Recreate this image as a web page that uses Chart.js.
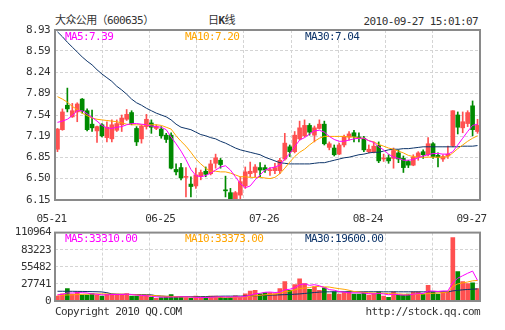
<!DOCTYPE html>
<html lang="zh-CN">
<head>
<meta charset="utf-8">
<title>大众公用 日K线</title>
<script src="https://cdn.jsdelivr.net/npm/chart.js@4.4.1/dist/chart.umd.min.js"></script>
<style>
  html, body { margin: 0; padding: 0; background: #fff; }
  #kxWrap {
    position: relative; width: 505px; height: 330px; overflow: hidden;
    font-family: 'DejaVu Sans Mono', 'Noto Sans CJK SC', monospace;
    font-size: 11px; color: #333; letter-spacing: -0.6px;
  }
  .kx-text { position: absolute; line-height: 14px; white-space: nowrap; }
  #priceChart { position: absolute; left: 0; top: 0; }
  #volChart { position: absolute; left: 0; top: 222px; }
</style>
</head>
<body>
<div id="kxWrap">
  <div class="kx-text" style="left:55px;top:14px;">大众公用（600635）</div>
  <div class="kx-text" style="left:208px;top:14px;">日<b>K</b>线</div>
  <div class="kx-text" style="right:27px;top:15px;">2010-09-27 15:01:07</div>
  <canvas id="priceChart" width="505" height="230"></canvas>
  <canvas id="volChart" width="505" height="108"></canvas>
  <div class="kx-text" style="left:55px;top:305px;">Copyright 2010 QQ.COM</div>
  <div class="kx-text" style="right:25px;top:305px;">http://stock.qq.com</div>
</div>
<script>
// ── 交易日 ──
var DATES = [
  '05-21','05-24','05-25','05-26','05-27','05-28','05-31',
  '06-01','06-02','06-03','06-04','06-07','06-08','06-09','06-10','06-11','06-17',
  '06-18','06-21','06-22','06-23','06-24','06-25','06-28','06-29','06-30',
  '07-01','07-02','07-05','07-06','07-07','07-08','07-09','07-12','07-13','07-14',
  '07-15','07-16','07-19','07-20','07-21','07-22','07-23','07-26','07-27','07-28',
  '07-29','07-30',
  '08-02','08-03','08-04','08-05','08-06','08-09','08-10','08-11','08-12','08-13',
  '08-16','08-17','08-18','08-19','08-20','08-23','08-24','08-25','08-26','08-27',
  '08-30','08-31',
  '09-01','09-02','09-03','09-06','09-07','09-08','09-09','09-10','09-13','09-14',
  '09-15','09-16','09-17','09-20','09-21','09-27'
];
var DATE_TICKS = ['05-21', '06-25', '07-26', '08-24', '09-27'];

// ── 开盘 / 收盘 / 最高 / 最低 ──
var OPEN = [
  6.98, 7.30, 7.70, 7.51, 7.59, 7.80, 7.61, 7.39, 7.28, 7.38,
  7.17, 7.15, 7.29, 7.38, 7.47, 7.58, 7.32, 7.15, 7.35, 7.41,
  7.32, 7.31, 7.21, 7.21, 6.65, 6.68, 6.52, 6.41, 6.38, 6.54,
  6.62, 6.58, 6.75, 6.80, 6.31, 6.27, 6.15, 6.23, 6.38, 6.58,
  6.60, 6.68, 6.68, 6.63, 6.63, 6.63, 6.82, 7.02, 6.94, 7.15,
  7.20, 7.37, 7.21, 7.32, 7.39, 7.01, 7.00, 6.90, 7.05, 7.18,
  7.25, 7.18, 7.16, 6.94, 6.94, 7.04, 6.82, 6.84, 6.83, 6.92,
  6.83, 6.78, 6.72, 6.85, 6.94, 6.89, 7.07, 6.88, 6.82, 6.87,
  7.04, 7.54, 7.33, 7.40, 7.69, 7.27
];
var CLOSE = [
  7.31, 7.59, 7.64, 7.61, 7.72, 7.61, 7.30, 7.33, 7.35, 7.20,
  7.34, 7.38, 7.40, 7.49, 7.55, 7.40, 7.10, 7.36, 7.47, 7.34,
  7.35, 7.20, 7.14, 6.67, 6.61, 6.51, 6.53, 6.37, 6.56, 6.60,
  6.57, 6.74, 6.84, 6.73, 6.30, 6.15, 6.27, 6.45, 6.61, 6.62,
  6.69, 6.64, 6.64, 6.64, 6.68, 6.80, 7.08, 6.94, 7.21, 7.33,
  7.37, 7.26, 7.33, 7.39, 7.07, 7.07, 6.89, 7.05, 7.19, 7.23,
  7.19, 7.16, 6.97, 6.98, 7.03, 6.79, 6.83, 6.79, 6.96, 6.82,
  6.68, 6.72, 6.85, 6.92, 6.89, 7.07, 6.86, 6.85, 6.86, 6.90,
  7.61, 7.34, 7.43, 7.58, 7.30, 7.37
];
var HIGH = [
  7.32, 7.64, 7.98, 7.73, 7.74, 7.81, 7.64, 7.62, 7.36, 7.40,
  7.43, 7.46, 7.46, 7.54, 7.63, 7.61, 7.35, 7.38, 7.55, 7.46,
  7.38, 7.35, 7.24, 7.25, 6.74, 6.75, 6.68, 6.53, 6.67, 6.64,
  6.69, 6.80, 6.90, 6.83, 6.54, 6.34, 6.29, 6.53, 6.69, 6.77,
  6.73, 6.76, 6.72, 6.68, 6.75, 6.83, 7.24, 7.05, 7.27, 7.44,
  7.46, 7.40, 7.36, 7.46, 7.44, 7.10, 7.05, 7.08, 7.21, 7.27,
  7.29, 7.25, 7.19, 7.05, 7.10, 7.10, 6.90, 6.89, 7.00, 6.97,
  6.87, 6.80, 6.89, 6.94, 6.97, 7.17, 7.09, 6.92, 6.89, 7.03,
  7.61, 7.59, 7.59, 7.61, 7.77, 7.47
];
var LOW = [
  6.94, 7.29, 7.59, 7.50, 7.43, 7.57, 7.28, 7.27, 7.09, 7.18,
  7.10, 7.10, 7.27, 7.27, 7.45, 7.38, 7.04, 7.08, 7.31, 7.24,
  7.30, 7.16, 7.09, 6.66, 6.56, 6.48, 6.20, 6.20, 6.34, 6.48,
  6.53, 6.56, 6.67, 6.67, 6.20, 6.15, 6.15, 6.16, 6.34, 6.53,
  6.53, 6.53, 6.60, 6.55, 6.58, 6.58, 6.80, 6.86, 6.92, 7.13,
  7.18, 7.21, 7.10, 7.31, 7.05, 6.97, 6.87, 6.89, 7.02, 7.13,
  7.10, 7.10, 6.94, 6.92, 6.92, 6.76, 6.78, 6.75, 6.67, 6.76,
  6.60, 6.68, 6.71, 6.80, 6.83, 6.87, 6.83, 6.69, 6.78, 6.83,
  7.02, 7.23, 7.25, 7.35, 7.20, 7.24
];

// ── 价格均线 ──
var MA5 = [
  7.42, 7.44, 7.47, 7.53, 7.61, 7.61, 7.56, 7.50, 7.44, 7.37,
  7.33, 7.32, 7.34, 7.35, 7.38, 7.40, 7.40, 7.39, 7.38, 7.36,
  7.35, 7.34, 7.30, 7.18, 7.07, 6.95, 6.81, 6.65, 6.55, 6.53,
  6.55, 6.59, 6.64, 6.69, 6.71, 6.64, 6.53, 6.42, 6.35, 6.38,
  6.48, 6.56, 6.64, 6.67, 6.69, 6.72, 6.82, 6.91, 7.02, 7.13,
  7.17, 7.23, 7.28, 7.29, 7.26, 7.19, 7.14, 7.11, 7.11, 7.13,
  7.15, 7.16, 7.16, 7.12, 7.09, 7.02, 6.97, 6.90, 6.85, 6.83,
  6.80, 6.80, 6.81, 6.84, 6.87, 6.89, 6.91, 6.91, 6.90, 6.90,
  6.94, 7.05, 7.16, 7.27, 7.37, 7.39
];
var MA10 = [
  7.84, 7.80, 7.75, 7.68, 7.63, 7.57, 7.53, 7.49, 7.47, 7.46,
  7.45, 7.44, 7.43, 7.41, 7.39, 7.38, 7.38, 7.38, 7.38, 7.38,
  7.38, 7.37, 7.34, 7.31, 7.20, 7.11, 7.03, 6.93, 6.82, 6.74,
  6.67, 6.62, 6.62, 6.61, 6.61, 6.59, 6.56, 6.53, 6.53, 6.52,
  6.52, 6.52, 6.51, 6.50, 6.52, 6.58, 6.67, 6.77, 6.86, 6.93,
  6.98, 7.05, 7.11, 7.16, 7.19, 7.19, 7.19, 7.19, 7.19, 7.18,
  7.18, 7.16, 7.16, 7.12, 7.10, 7.06, 7.03, 7.00, 6.98, 6.95,
  6.92, 6.88, 6.86, 6.85, 6.85, 6.85, 6.85, 6.85, 6.85, 6.86,
  6.92, 6.99, 7.05, 7.11, 7.16, 7.20
];
var MA30 = [
  8.90, 8.82, 8.73, 8.65, 8.57, 8.49, 8.42, 8.36, 8.28, 8.21,
  8.15, 8.09, 8.01, 7.95, 7.88, 7.80, 7.74, 7.70, 7.65, 7.61,
  7.57, 7.54, 7.51, 7.46, 7.39, 7.34, 7.32, 7.30, 7.26, 7.22,
  7.20, 7.17, 7.15, 7.11, 7.08, 7.04, 7.00, 6.97, 6.95, 6.93,
  6.91, 6.89, 6.85, 6.82, 6.79, 6.76, 6.75, 6.74, 6.74, 6.74,
  6.74, 6.74, 6.75, 6.76, 6.76, 6.78, 6.80, 6.82, 6.84, 6.85,
  6.87, 6.89, 6.90, 6.92, 6.93, 6.93, 6.95, 6.97, 6.98, 6.98,
  6.99, 6.99, 7.00, 7.01, 7.02, 7.02, 7.02, 7.02, 7.02, 7.02,
  7.02, 7.02, 7.03, 7.03, 7.03, 7.04
];

// ── 成交量及均量 ──
var VOLUME = [
  7900, 11700, 20100, 11100, 14900, 9500, 9500, 12200, 9500, 7900,
  11100, 11100, 11100, 11100, 12200, 7900, 7900, 7900, 9500, 5900,
  4300, 5400, 6300, 10600, 5900, 5900, 5400, 4300, 7900, 5400,
  5400, 7900, 7900, 6900, 4500, 5900, 8500, 5900, 11700, 15900,
  17400, 11700, 13800, 13800, 12200, 20100, 31700, 17400, 26500, 36000,
  28100, 19000, 22800, 17400, 21200, 11100, 14900, 11100, 13800, 14900,
  11100, 11100, 13800, 9500, 12200, 14900, 7900, 5900, 14900, 9500,
  9500, 11100, 14900, 14900, 11100, 25400, 14900, 11100, 14900, 14900,
  103000, 47600, 31700, 28100, 29600, 20100
];
var VOL_MA5 = [
  10000, 11000, 13000, 13000, 13500, 13500, 13000, 11500, 11000, 10000,
  10000, 10500, 10500, 10500, 11000, 10500, 9500, 9000, 8500, 7500,
  6800, 6300, 6200, 6400, 6400, 6800, 6700, 6400, 5800, 5800,
  5600, 6000, 6400, 6800, 6500, 6500, 6800, 6500, 7400, 9400,
  11800, 12500, 14100, 14500, 13800, 14300, 18300, 19000, 21600, 26300,
  27900, 25400, 26500, 24700, 21700, 18500, 17500, 15200, 14400, 13200,
  13200, 13200, 12800, 12000, 11500, 12200, 11500, 10100, 11000, 10300,
  9500, 9700, 11000, 12000, 12300, 16200, 16200, 15500, 16300, 16200,
  30000, 37000, 41000, 45000, 48500, 33310
];
var VOL_MA10 = [
  9500, 9500, 9800, 10000, 10500, 10800, 11000, 11500, 11500, 11500,
  11300, 11000, 11000, 10800, 10800, 10500, 10000, 9600, 9500, 9000,
  8600, 8000, 7600, 7500, 7100, 6600, 6400, 6200, 6200, 6000,
  6000, 6100, 6100, 6000, 5800, 5800, 6000, 6200, 6600, 7600,
  8700, 9200, 10000, 10800, 11000, 12500, 15000, 16000, 17800, 20200,
  21100, 21700, 23700, 23300, 22900, 22600, 21200, 20000, 19000, 17400,
  15400, 14700, 14000, 13300, 12800, 12700, 12500, 11900, 11900, 11600,
  11000, 10700, 10700, 11300, 11200, 12200, 12500, 13000, 13600, 14500,
  23400, 27700, 29400, 30800, 32700, 33373
];
var VOL_MA30 = [
  15800, 15800, 15700, 15700, 15600, 15500, 15400, 15200, 15000, 14700,
  13500, 11500, 11000, 10800, 10700, 10600, 10500, 10400, 10200, 10000,
  8500, 8000, 7600, 7400, 7300, 7200, 7100, 7100, 7100, 7200,
  7300, 7400, 7600, 7800, 7900, 7900, 8000, 8000, 8100, 8200,
  8400, 8800, 9200, 9500, 9700, 10000, 10300, 10600, 11000, 11500,
  12200, 13000, 13800, 14400, 14800, 14900, 15000, 15000, 15000, 15000,
  15000, 15000, 15000, 15000, 15000, 15000, 14900, 14900, 14900, 14900,
  14900, 14900, 14900, 14900, 14900, 14900, 14900, 14900, 14900, 14900,
  16400, 17300, 18100, 18700, 19200, 19600
];

// ── 坐标刻度 ──
var PRICE_TICKS = [6.15, 6.50, 6.85, 7.19, 7.54, 7.89, 8.24, 8.59, 8.93];
var VOL_TICKS = [0, 27741, 55482, 83223, 110964];

// ── 颜色 ──
var UP_COLOR = '#ff5050';
var DOWN_COLOR = '#008a00';
var MA_COLORS = ['#ff00ff', '#ffa500', '#0d3469'];
var GRID_COLOR = '#d4d4d4';
var FRAME_COLOR = '#8a8a8a';
var TEXT_COLOR = '#333333';
var FONT_FAMILY = "'DejaVu Sans Mono', monospace";

Chart.defaults.font.family = FONT_FAMILY;
Chart.defaults.font.size = 11;
Chart.defaults.color = TEXT_COLOR;

// 涨红跌绿
var candleColors = [];
for (var i = 0; i < OPEN.length; i++) {
  candleColors.push(CLOSE[i] >= OPEN[i] ? UP_COLOR : DOWN_COLOR);
}

function lastOf(arr) {
  return arr[arr.length - 1];
}

// ── 边框 + 均线图例 ──
function makeFramePlugin(items) {
  return {
    id: 'kxFrame',
    beforeDraw: function(chart) {
      chart.ctx.letterSpacing = '-0.6px';
    },
    afterDraw: function(chart) {
      var a = chart.chartArea;
      var ctx = chart.ctx;
      ctx.save();
      ctx.strokeStyle = FRAME_COLOR;
      ctx.lineWidth = 2;
      ctx.strokeRect(a.left, a.top, a.right - a.left, a.bottom - a.top);
      ctx.font = '11px ' + FONT_FAMILY;
      ctx.textAlign = 'left';
      ctx.textBaseline = 'middle';
      for (var k = 0; k < items.length; k++) {
        ctx.fillStyle = MA_COLORS[k];
        ctx.fillText(items[k], a.left + 10 + k * 120, a.top + 7);
      }
      ctx.restore();
    }
  };
}

function maLine(data, color) {
  return {
    type: 'line',
    data: data,
    xAxisID: 'x',
    borderColor: color,
    borderWidth: 1,
    pointRadius: 0,
    tension: 0,
    fill: false,
    order: 0
  };
}

// 八等分竖向网格
function gridAxis() {
  return {
    type: 'linear',
    position: 'bottom',
    min: 0,
    max: 8,
    grid: { color: GRID_COLOR, drawTicks: false },
    border: { display: false, dash: [3, 2] },
    ticks: { display: false, stepSize: 1 },
    afterFit: function(s) { s.height = 0; }
  };
}

// ── K线图 ──
var bodies = [];
var wicks = [];
for (var i = 0; i < OPEN.length; i++) {
  bodies.push([OPEN[i], CLOSE[i]]);
  wicks.push([LOW[i], HIGH[i]]);
}

new Chart(document.getElementById('priceChart'), {
  type: 'bar',
  data: {
    labels: DATES,
    datasets: [
      maLine(MA5, MA_COLORS[0]),
      maLine(MA10, MA_COLORS[1]),
      maLine(MA30, MA_COLORS[2]),
      {
        data: bodies,
        xAxisID: 'x',
        backgroundColor: candleColors,
        borderWidth: 0,
        barThickness: 4,
        minBarLength: 1,
        grouped: false,
        order: 1
      },
      {
        data: wicks,
        xAxisID: 'x',
        backgroundColor: candleColors,
        borderWidth: 0,
        barThickness: 1,
        grouped: false,
        order: 2
      }
    ]
  },
  options: {
    responsive: false,
    animation: false,
    devicePixelRatio: 1,
    events: [],
    layout: { padding: { top: 30, right: 25, left: 0, bottom: 0 } },
    plugins: { legend: { display: false }, tooltip: { enabled: false } },
    scales: {
      x: {
        type: 'category',
        offset: true,
        grid: { display: false },
        border: { display: false },
        ticks: {
          autoSkip: false,
          maxRotation: 0,
          padding: 5,
          labelOffset: -6,
          color: TEXT_COLOR,
          callback: function(v, idx) {
            var d = DATES[idx];
            return DATE_TICKS.indexOf(d) >= 0 ? d : '';
          }
        },
        afterFit: function(s) { s.height = 30; }
      },
      xg: gridAxis(),
      y: {
        min: 6.15,
        max: 8.93,
        afterBuildTicks: function(s) {
          s.ticks = PRICE_TICKS.map(function(v) { return { value: v }; });
        },
        grid: { color: GRID_COLOR, drawTicks: false },
        border: { display: false, dash: [3, 2] },
        ticks: {
          padding: 5,
          color: TEXT_COLOR,
          callback: function(v) { return Number(v).toFixed(2); }
        },
        afterFit: function(s) { s.width = 55; }
      }
    }
  },
  plugins: [makeFramePlugin([
    'MA5:' + lastOf(MA5).toFixed(2),
    'MA10:' + lastOf(MA10).toFixed(2),
    'MA30:' + lastOf(MA30).toFixed(2)
  ])]
});

// ── 成交量图 ──
new Chart(document.getElementById('volChart'), {
  type: 'bar',
  data: {
    labels: DATES,
    datasets: [
      maLine(VOL_MA5, MA_COLORS[0]),
      maLine(VOL_MA10, MA_COLORS[1]),
      maLine(VOL_MA30, MA_COLORS[2]),
      {
        data: VOLUME,
        xAxisID: 'x',
        backgroundColor: candleColors,
        borderWidth: 0,
        barThickness: 4,
        order: 1
      }
    ]
  },
  options: {
    responsive: false,
    animation: false,
    devicePixelRatio: 1,
    events: [],
    layout: { padding: { top: 9, right: 25, left: 0, bottom: 0 } },
    plugins: { legend: { display: false }, tooltip: { enabled: false } },
    scales: {
      x: {
        type: 'category',
        offset: true,
        grid: { display: false },
        border: { display: false },
        ticks: { display: false },
        afterFit: function(s) { s.height = 29; }
      },
      xg: gridAxis(),
      y: {
        min: 0,
        max: 110964,
        afterBuildTicks: function(s) {
          s.ticks = VOL_TICKS.map(function(v) { return { value: v }; });
        },
        grid: { color: GRID_COLOR, drawTicks: false },
        border: { display: false, dash: [3, 2] },
        ticks: {
          padding: 4,
          color: TEXT_COLOR,
          callback: function(v) { return String(v); }
        },
        afterFit: function(s) { s.width = 55; }
      }
    }
  },
  plugins: [makeFramePlugin([
    'MA5:' + lastOf(VOL_MA5).toFixed(2),
    'MA10:' + lastOf(VOL_MA10).toFixed(2),
    'MA30:' + lastOf(VOL_MA30).toFixed(2)
  ])]
});
</script>
</body>
</html>
